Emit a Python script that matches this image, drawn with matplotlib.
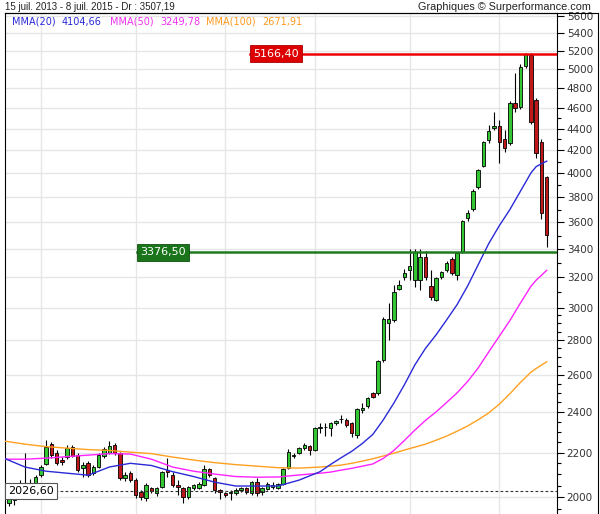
import matplotlib
matplotlib.use("Agg")
import matplotlib.pyplot as plt
import numpy as np
import pandas as pd
from matplotlib.ticker import FixedLocator, FuncFormatter, NullFormatter
from matplotlib.lines import Line2D

# Weekly candles, first week starting Monday 15 July 2013
week_start = "2013-07-15"

opens = [2005, 1975, 1987, 2043, 2045, 2058, 2052, 2096, 2146, 2240,
         2198, 2165, 2179, 2226, 2188, 2128, 2151, 2105, 2133, 2184,
         2198, 2236, 2198, 2083, 2105, 2074, 2021, 1996, 2039, 2017,
         2043, 2119, 2096, 2052, 2039, 2000, 2039, 2041, 2052, 2123,
         2083, 2030, 2017, 2017, 2017, 2030, 2039, 2017, 2065, 2021,
         2034, 2043, 2039, 2056, 2128, 2186, 2198, 2221, 2231, 2212,
         2320, 2326, 2319, 2344, 2362, 2359, 2344, 2284, 2412, 2430,
         2499, 2499, 2682, 2903, 2922, 3122, 3203, 3251, 3183, 3183,
         3343, 3142, 3049, 3200, 3251, 3329, 3217, 3379, 3634, 3705,
         3884, 4062, 4295, 4406, 4425, 4304, 4267, 4648, 4609, 5032,
         5152, 4678, 4276, 3968]

highs = [2030, 2012, 2008, 2074, 2198, 2078, 2096, 2142, 2260, 2250,
         2212, 2180, 2236, 2236, 2198, 2155, 2160, 2142, 2198, 2226,
         2255, 2245, 2202, 2110, 2115, 2083, 2030, 2060, 2043, 2043,
         2115, 2174, 2110, 2074, 2043, 2048, 2056, 2065, 2142, 2128,
         2087, 2034, 2021, 2030, 2039, 2043, 2043, 2070, 2083, 2043,
         2065, 2065, 2061, 2128, 2217, 2198, 2226, 2245, 2236, 2324,
         2344, 2344, 2349, 2359, 2385, 2369, 2349, 2420, 2445, 2477,
         2505, 2682, 2940, 3030, 3149, 3183, 3258, 3401, 3401, 3401,
         3390, 3250, 3203, 3245, 3315, 3340, 3380, 3620, 3700, 3870,
         4040, 4290, 4436, 4560, 4480, 4388, 4670, 4960, 5050, 5178,
         5170, 4700, 4304, 3980]

lows = [1985, 1962, 1966, 2030, 2020, 2035, 2043, 2087, 2140, 2174,
        2142, 2140, 2170, 2179, 2110, 2087, 2087, 2096, 2128, 2174,
        2193, 2188, 2074, 2070, 2065, 1996, 1987, 1983, 2017, 2004,
        2039, 2087, 2043, 2008, 1975, 1992, 2030, 2034, 2048, 2087,
        2017, 1992, 2000, 1987, 2008, 2021, 2013, 2008, 2004, 2008,
        2030, 2034, 2034, 2052, 2123, 2174, 2193, 2212, 2188, 2207,
        2294, 2280, 2280, 2334, 2344, 2324, 2275, 2270, 2395, 2420,
        2470, 2490, 2670, 2799, 2910, 3115, 3183, 3183, 3135, 3115,
        3183, 3049, 3043, 3190, 3240, 3220, 3183, 3370, 3610, 3690,
        3870, 4050, 4267, 4388, 4088, 4186, 4250, 4560, 4590, 5010,
        4440, 4132, 3627, 3415]

closes = [1995, 2004, 2000, 2060, 2058, 2055, 2087, 2133, 2226, 2188,
          2151, 2155, 2221, 2184, 2119, 2142, 2096, 2133, 2188, 2217,
          2231, 2198, 2083, 2096, 2074, 2008, 2000, 2052, 2026, 2039,
          2110, 2110, 2052, 2045, 2000, 2043, 2052, 2056, 2123, 2096,
          2030, 2021, 2008, 2021, 2030, 2039, 2021, 2065, 2017, 2039,
          2056, 2052, 2056, 2123, 2202, 2190, 2221, 2236, 2212, 2319,
          2326, 2322, 2344, 2354, 2366, 2334, 2294, 2415, 2418, 2472,
          2477, 2676, 2928, 2928, 3102, 3149, 3231, 3280, 3376.50, 3343,
          3203, 3069, 3196, 3237, 3301, 3231, 3372, 3611, 3673, 3851,
          4028, 4276, 4378, 4425, 4276, 4222, 4648, 4599, 5021, 5166.40,
          4463, 4177, 3673, 3507.19]

# Moving averages (weekly), sampled at these weeks
ma_weeks = [0, 4, 8, 12, 16, 20, 24, 28, 32, 36, 40, 44, 48, 52, 56,
            60, 62, 64, 66, 68, 70, 72, 74, 76, 78, 80, 82, 84, 86, 88,
            90, 92, 94, 96, 98, 100, 101, 102, 103]
mma20 = [2174, 2133, 2114, 2105, 2096, 2133, 2150, 2140, 2112, 2090,
         2065, 2048, 2048, 2048, 2074,
         2112, 2145, 2176, 2206, 2243, 2287, 2360, 2446, 2544, 2655,
         2750, 2830, 2922, 3020, 3143, 3289, 3441, 3575, 3700, 3848,
         4002, 4057, 4082, 4104.66]
mma50 = [2169, 2169, 2174, 2181, 2188, 2195, 2193, 2169, 2133, 2114,
         2101, 2090, 2087, 2088, 2097,
         2105, 2110, 2119, 2127, 2137, 2147, 2173, 2210, 2258, 2309,
         2357, 2400, 2449, 2500, 2562, 2637, 2729, 2822, 2918, 3029,
         3140, 3182, 3215, 3249.78]
mma100 = [2255, 2240, 2228, 2221, 2214, 2210, 2202, 2195, 2179, 2165,
          2153, 2144, 2137, 2130, 2128,
          2133, 2137, 2142, 2150, 2160, 2171, 2184, 2197, 2212, 2226,
          2240, 2259, 2279, 2303, 2329, 2360, 2395, 2440, 2495, 2556,
          2613, 2634, 2653, 2671.91]

max_close = 5166.40
resistance = 3376.50
support = 2026.60

y_ticks = list(range(2000, 5601, 200))
y_minor = [v for v in range(1950, 3000, 50) if v % 200] + \
          [v for v in range(3000, 4700, 100) if v % 200]


def fr(v):
    return f"{v:.2f}".replace(".", ",")


W, H = 600, 514
fig = plt.figure(figsize=(W / 100, H / 100), dpi=100)
fig.patch.set_facecolor("white")
ax = fig.add_axes([5 / W, 0, 552 / W, 501 / H])

weeks = pd.date_range(week_start, periods=len(closes), freq="W-MON")
x = np.arange(len(closes))

ax.set_yscale("log")
ax.set_ylim(1929, 5636)
ax.set_xlim(0.21, 104.95)

# vertical grid at the first week of January, May and September
grid_weeks = [i for i, d in enumerate(weeks) if d.month in (1, 5, 9) and d.day <= 7]
ax.set_xticks(grid_weeks)
ax.tick_params(axis="x", length=0, labelbottom=False)

ax.yaxis.set_major_locator(FixedLocator(y_ticks))
ax.yaxis.set_major_formatter(FuncFormatter(lambda v, p: f"{v:.0f}"))
ax.yaxis.set_minor_locator(FixedLocator(y_minor))
ax.yaxis.set_minor_formatter(NullFormatter())
ax.yaxis.tick_right()
ax.tick_params(axis="y", which="major", direction="out", length=5, width=0.8,
               labelsize=7.5, pad=2, labelcolor="#333333")
ax.tick_params(axis="y", which="minor", direction="out", length=3, width=0.8)
ax.grid(True, which="major", color="#e6e6e6", lw=1, zorder=0)
ax.set_axisbelow(True)

for side in ("left", "top", "right"):
    ax.spines[side].set_linewidth(0.8)
ax.spines["bottom"].set_visible(False)

# candles
o = np.array(opens, float)
c = np.array(closes, float)
hi = np.array(highs, float)
lo = np.array(lows, float)
up = c >= o
ax.vlines(x, lo, hi, color="black", lw=0.8, zorder=2)
ax.bar(x, np.abs(c - o), bottom=np.minimum(o, c), width=0.66,
       color=np.where(up, "#33c633", "#c01818"), edgecolor="black",
       linewidth=0.6, zorder=3)

# moving averages
ax.plot(ma_weeks, mma100, color="#ffa020", lw=1, zorder=4)
ax.plot(ma_weeks, mma50, color="#ff22ff", lw=1, zorder=4)
ax.plot(ma_weeks, mma20, color="#2a2ad8", lw=1, zorder=4)

# horizontal levels with value boxes
tr = ax.get_yaxis_transform()
ax.plot([0.444, 1.0], [max_close] * 2, color="#ee0000", lw=1.8, transform=tr, zorder=5)
ax.text(0.444 + 3 / 552, max_close, fr(max_close), transform=tr, ha="left", va="center",
        fontsize=8, color="white", zorder=6,
        bbox=dict(boxstyle="square,pad=0.3", fc="#dd0000", ec="#aa0000", lw=0.6))

ax.plot([0.239, 1.0], [resistance] * 2, color="#1f7a1f", lw=1.8, transform=tr, zorder=5)
ax.text(0.239 + 3 / 552, resistance, fr(resistance), transform=tr, ha="left", va="center",
        fontsize=8, color="white", zorder=6,
        bbox=dict(boxstyle="square,pad=0.3", fc="#1a741a", ec="#0e500e", lw=0.6))

ax.plot([0.0, 1.0], [support] * 2, color="#333333", lw=0.8, ls=(0, (2.5, 2)),
        transform=tr, zorder=5)
ax.text(0.0 + 3 / 552, support, fr(support), transform=tr, ha="left", va="center",
        fontsize=8, color="black", zorder=6,
        bbox=dict(boxstyle="square,pad=0.3", fc="white", ec="#555555", lw=0.8))

# legend of the averages
ly = 1 - 22 / H
legend = [(12, "MMA(20)", "#2a2ad8"), (62, fr(mma20[-1]), "#2a2ad8"),
          (110, "MMA(50)", "#f030f0"), (160, fr(mma50[-1]), "#f030f0"),
          (206, "MMA(100)", "#ff9a1f"), (262, fr(mma100[-1]), "#ff9a1f")]
for px, txt, col in legend:
    fig.text(px / W, ly, txt, fontsize=7, color=col, ha="left", va="center")

# header
first = weeks[0]
fig.text(5 / W, 1 - 7 / H,
         f"{first.day} juil. {first.year} - 8 juil. 2015 - Dr : {fr(closes[-1])}",
         fontsize=7, family="Liberation Sans", color="#222222", ha="left", va="center")
fig.text(591 / W, 1 - 7 / H, "Graphiques \u00a9 Surperformance.com",
         fontsize=7.8, family="Liberation Sans", color="#222222", ha="right", va="center")

# outer frame around the value scale
fig.add_artist(Line2D([5 / W, 598 / W], [501 / H, 501 / H], color="black", lw=0.8))
fig.add_artist(Line2D([598 / W, 598 / W], [0, 501 / H], color="black", lw=0.8))

fig.savefig("out.png", dpi=100)
